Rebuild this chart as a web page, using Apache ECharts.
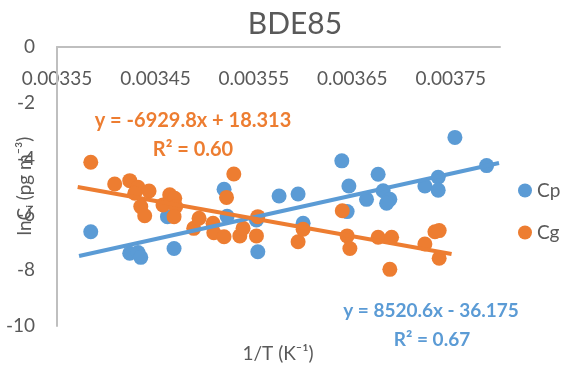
<!DOCTYPE html>
<html>
<head>
<meta charset="utf-8">
<script src="https://cdn.jsdelivr.net/npm/echarts@6/dist/echarts.min.js"></script>
<style>html,body{margin:0;padding:0;background:#fff}#c{width:566px;height:369px}</style>
</head>
<body>
<div id="c"></div>
<script>
// ---- data ----
const cpX = [0.0033843,0.0034239,0.0034323,0.0034351,0.0034622,0.0034689,0.0035197,0.0035228,0.0035526,0.003554,0.0035756,0.0035949,0.0036,0.0036393,0.0036465,0.0036447,0.0036644,0.0036762,0.0036813,0.0036881,0.0036848,0.0037237,0.0037372,0.0037372,0.0037542,0.0037864];
const cpY = [-6.62,-7.39,-7.37,-7.54,-6.08,-7.22,-5.10,-6.07,-6.20,-7.34,-5.34,-5.27,-6.32,-4.08,-4.98,-5.90,-5.46,-4.56,-5.15,-5.46,-5.60,-4.98,-4.67,-5.13,-3.24,-4.25];
const cgX = [0.0033843,0.0034086,0.0034239,0.0034323,0.003429,0.0034435,0.0034351,0.0034391,0.0034645,0.0034696,0.0034577,0.0034706,0.0034689,0.0034889,0.0034943,0.0035085,0.0035093,0.0035197,0.0035296,0.0035222,0.0035357,0.003539,0.0035526,0.003554,0.0035949,0.0036,0.0036398,0.0036447,0.0036475,0.0036762,0.0036899,0.0036881,0.0037237,0.0037339,0.0037382,0.0037382];
const cgY = [-4.13,-4.91,-4.79,-5.03,-5.24,-5.16,-5.72,-6.05,-5.30,-5.42,-5.66,-5.72,-6.08,-6.50,-6.14,-6.32,-6.66,-6.80,-4.55,-5.39,-6.77,-6.50,-6.77,-6.08,-6.98,-6.53,-5.87,-6.77,-7.22,-6.82,-6.82,-7.97,-7.06,-6.62,-6.58,-7.57];
const cpTrendX = [0.0033724, 0.003799];
const cpTrendY = [-7.49, -4.16];
const cgTrendX = [0.003371, 0.0037508];
const cgTrendY = [-5.02, -7.42];
const xMin = 0.00335, xMax = 0.0038;
const xTicks = ['0.00335','0.00345','0.00355','0.00365','0.00375'];
const yTicks = [0,-2,-4,-6,-8,-10];
const seriesNames = ['Cp','Cg'];
const cgEquation = ['y = -6929.8x + 18.313', 'R² = 0.60'];
const cpEquation = ['y = 8520.6x - 36.175', 'R² = 0.67'];
const titleText = 'BDE85';
const xName = '1/T (K⁻¹)';
const yName = 'lnCᵢ (pg m⁻³)';

const BLUE = '#5B9BD5', ORANGE = '#ED7D31', GREY = '#595959', AXIS = '#bfbfbf';
const FONT = 'Lato, "Open Sans", sans-serif';
const zip = (a, b) => a.map((v, i) => [v, b[i]]);
const yMin = yTicks[yTicks.length - 1], yMax = yTicks[0];

const chart = echarts.init(document.getElementById('c'), null, {renderer: 'canvas'});
chart.setOption({
  animation: false,
  backgroundColor: '#fff',
  grid: {left: 57, right: 66, top: 47, bottom: 43, containLabel: false, outerBoundsMode: 'none'},
  xAxis: {
    type: 'value', position: 'top',
    min: xMin, max: xMax, interval: 0.00005,
    axisLine: {show: true, onZero: false, lineStyle: {color: AXIS, width: 2}},
    axisTick: {show: false}, splitLine: {show: false},
    axisLabel: {
      inside: true, margin: 22, color: GREY, fontSize: 19, fontFamily: FONT,
      showMaxLabel: false,
      formatter: function (v) {
        for (const t of xTicks) { if (Math.abs(parseFloat(t) - v) < 1e-8) return t; }
        return '';
      }
    }
  },
  yAxis: {
    type: 'value', min: yMin, max: yMax, interval: 2,
    axisLine: {show: true, onZero: false, lineStyle: {color: AXIS, width: 2}},
    axisTick: {show: false}, splitLine: {show: false},
    axisLabel: {margin: 22, color: GREY, fontSize: 19, fontFamily: FONT}
  },
  legend: {
    data: seriesNames, orient: 'vertical', left: 513, top: 176,
    itemWidth: 14, itemHeight: 14, itemGap: 23, icon: 'circle',
    textStyle: {color: GREY, fontSize: 19, fontFamily: FONT}
  },
  series: [
    {name: 'yAxisLine', type: 'line', data: [[xMin, yMin], [xMin, yMax]], symbol: 'none', silent: true,
     lineStyle: {color: AXIS, width: 2}, z: 1},
    {name: seriesNames[0], type: 'scatter', data: zip(cpX, cpY), symbolSize: 15,
     itemStyle: {color: BLUE, opacity: 1}, z: 2},
    {name: seriesNames[1], type: 'scatter', data: zip(cgX, cgY), symbolSize: 15,
     itemStyle: {color: ORANGE, opacity: 1}, z: 3},
    {name: 'cpTrend', type: 'line', data: zip(cpTrendX, cpTrendY), showSymbol: false, symbol: 'none',
     lineStyle: {color: BLUE, width: 4}, z: 4},
    {name: 'cgTrend', type: 'line', data: zip(cgTrendX, cgTrendY), showSymbol: false, symbol: 'none',
     lineStyle: {color: ORANGE, width: 4}, z: 4}
  ],
  graphic: [
    {type: 'text', x: 295, y: 24, style: {text: titleText, fill: GREY, font: '30px ' + FONT, textAlign: 'center', textVerticalAlign: 'middle'}},
    {type: 'text', x: 278, y: 354, style: {text: xName, fill: GREY, font: '19px ' + FONT, textAlign: 'center', textVerticalAlign: 'middle'}},
    {type: 'text', x: 25, y: 186, rotation: Math.PI / 2, style: {text: yName, fill: GREY, font: '19px ' + FONT, textAlign: 'center', textVerticalAlign: 'middle'}},
    {type: 'text', x: 193, y: 121, style: {text: cgEquation[0], fill: ORANGE, font: 'bold 20px ' + FONT, textAlign: 'center', textVerticalAlign: 'middle'}},
    {type: 'text', x: 193, y: 150, style: {text: cgEquation[1], fill: ORANGE, font: 'bold 20px ' + FONT, textAlign: 'center', textVerticalAlign: 'middle'}},
    {type: 'text', x: 431, y: 311, style: {text: cpEquation[0], fill: BLUE, font: 'bold 19px ' + FONT, textAlign: 'center', textVerticalAlign: 'middle'}},
    {type: 'text', x: 432, y: 340, style: {text: cpEquation[1], fill: BLUE, font: 'bold 19px ' + FONT, textAlign: 'center', textVerticalAlign: 'middle'}}
  ]
});
</script>
</body>
</html>
